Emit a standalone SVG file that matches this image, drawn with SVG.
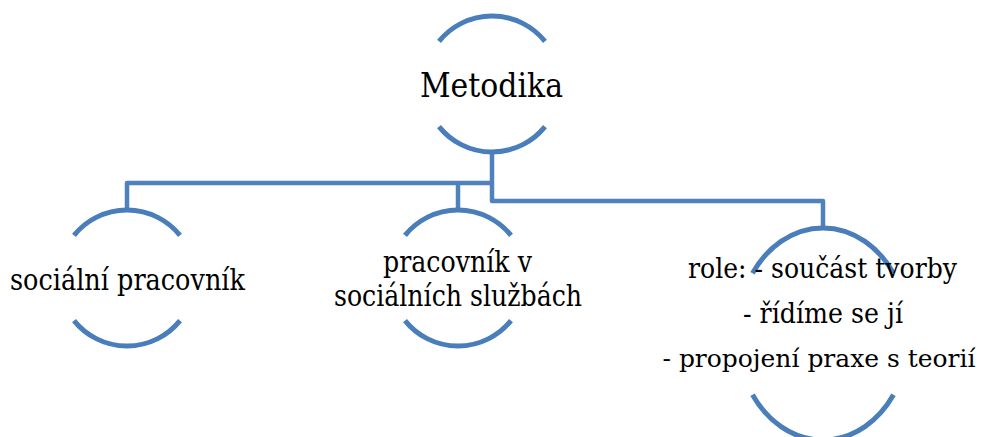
<svg xmlns="http://www.w3.org/2000/svg" width="983" height="437" viewBox="0 0 983 437">
<style>
.arc{fill:none;stroke:#4A7EBB;stroke-width:5}
.con{fill:none;stroke:#4F81BD;stroke-width:4.5;stroke-linejoin:round}
text{font-family:'DejaVu Serif','Liberation Serif',serif;fill:#000;text-anchor:middle}
.s{font-size:29px}
.r{font-size:27px}
.r3{font-size:25px}
</style>
<rect width="983" height="437" fill="#fff"/>
<g id="connectors">
<path class="con" d="M492 152 V201 H823 V228"/>
<path class="con" d="M492 183 H127 V210"/>
<path class="con" d="M458 183 V210"/>
</g>
<g id="node-metodika">
<path class="arc" d="M439 41.4 A68 68 0 0 1 545 41.4"/>
<path class="arc" d="M439 126.6 A68 68 0 0 0 545 126.6"/>
<text x="491.5" y="97" font-size="33.5" textLength="143" lengthAdjust="spacingAndGlyphs">Metodika</text>
</g>
<g id="node-socialni-pracovnik">
<path class="arc" d="M74 235.4 A68 68 0 0 1 180 235.4"/>
<path class="arc" d="M74 320.6 A68 68 0 0 0 180 320.6"/>
<text class="s" x="127.5" y="290" textLength="235" lengthAdjust="spacingAndGlyphs">sociální pracovník</text>
</g>
<g id="node-pracovnik-v-socialnich-sluzbach">
<path class="arc" d="M405 235.4 A68 68 0 0 1 511 235.4"/>
<path class="arc" d="M405 320.6 A68 68 0 0 0 511 320.6"/>
<text class="s" x="457.5" y="272" textLength="149" lengthAdjust="spacingAndGlyphs">pracovník v</text>
<text class="s" x="458" y="305.5" textLength="248" lengthAdjust="spacingAndGlyphs">sociálních službách</text>
</g>
<g id="node-role">
<path class="arc" d="M752.5 273.2 A86 106 0 0 1 893.5 273.2"/>
<path class="arc" d="M752.5 394.8 A86 106 0 0 0 893.5 394.8"/>
<text class="r" x="822.5" y="278" textLength="269" lengthAdjust="spacingAndGlyphs">role: - součást tvorby</text>
<text class="r" x="823" y="323" textLength="160" lengthAdjust="spacingAndGlyphs">- řídíme se jí</text>
<text class="r3" x="819" y="367" textLength="313" lengthAdjust="spacingAndGlyphs">- propojení praxe s teorií</text>
</g>
</svg>
